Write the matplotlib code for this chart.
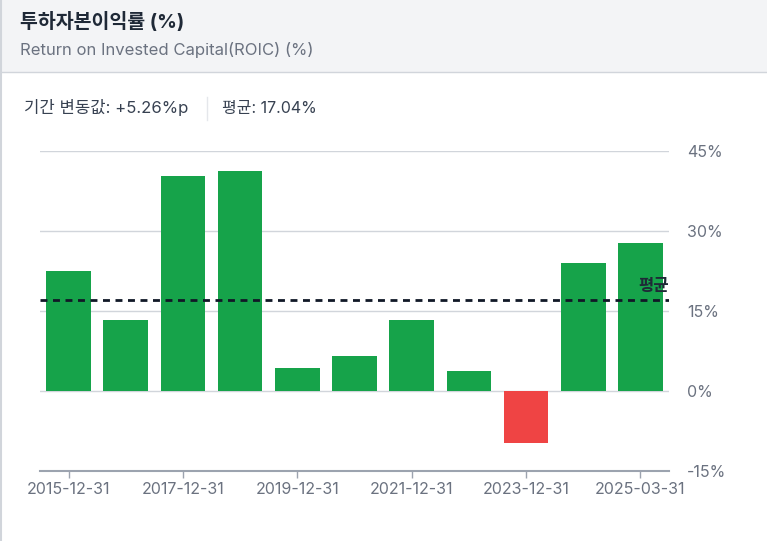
import matplotlib
matplotlib.use('Agg')
import matplotlib.pyplot as plt
import matplotlib.patches as patches
from matplotlib.lines import Line2D

plt.rcParams['font.family'] = ['Inter', 'Noto Sans CJK KR', 'DejaVu Sans']

# 데이터
dates = ['2015-12-31', '2016-12-31', '2017-12-31', '2018-12-31', '2019-12-31',
         '2020-12-31', '2021-12-31', '2022-12-31', '2023-12-31', '2024-12-31',
         '2025-03-31']
roic = [22.5, 13.3, 40.3, 41.25, 4.3, 6.6, 13.3, 3.75, -9.75, 24.0, 27.75]
avg_value = 17.04
change_value = 5.26
y_ticks = [-15, 0, 15, 30, 45]

fig = plt.figure(figsize=(7.67, 5.41), dpi=100)
fig.set_facecolor('white')
W, H = 767, 541

# 헤더 영역
header = patches.Rectangle((0, 1 - 72 / H), 1, 72 / H, transform=fig.transFigure,
                           facecolor='#f3f4f6', edgecolor='none', zorder=0)
fig.patches.append(header)
fig.lines.append(Line2D([0, 1], [1 - 72 / H, 1 - 72 / H], transform=fig.transFigure,
                        color='#d1d5db', lw=1))
fig.lines.append(Line2D([1 / W, 1 / W], [0, 1], transform=fig.transFigure,
                        color='#d1d5db', lw=1.5))

fig.text(20 / W, 1 - 22 / H, '투하자본이익률 (%)', fontsize=14, fontweight='bold',
         color='#1f2937', va='center', ha='left')
fig.text(20 / W, 1 - 50 / H, 'Return on Invested Capital(ROIC) (%)', fontsize=12,
         color='#6b7280', va='center', ha='left')
fig.text(24 / W, 1 - 108 / H, f'기간 변동값: +{change_value:.2f}%p', fontsize=12,
         color='#374151', va='center', ha='left')
fig.lines.append(Line2D([207 / W, 207 / W], [1 - 97 / H, 1 - 120 / H],
                        transform=fig.transFigure, color='#e5e7eb', lw=1))
fig.text(222 / W, 1 - 108 / H, f'평균: {avg_value:.2f}%', fontsize=11.5,
         color='#374151', va='center', ha='left')

# 차트
ax = fig.add_axes([40 / W, 1 - 471 / H, 629 / W, 320 / H])
x = list(range(len(dates)))
colors = ['#16a34a' if v >= 0 else '#ef4444' for v in roic]
ax.bar(x, roic, width=0.78, color=colors, zorder=2)

ax.axhline(avg_value, color='#111827', lw=2, ls=(0, (2.5, 2)), zorder=3)
ax.text(len(dates) - 0.5, avg_value + 1.2, '평균', ha='right', va='bottom',
        fontsize=12, fontweight='bold', color='#1f2937', zorder=4)

ax.set_xlim(-0.5, len(dates) - 0.5)
ax.set_ylim(-15, 45)
ax.set_yticks(y_ticks)
ax.set_yticklabels([f'{t}%' for t in y_ticks])
ax.yaxis.tick_right()
ax.tick_params(axis='y', length=0, pad=13, labelsize=11.5, labelcolor='#6b7280')
ax.set_xticks(x[::2])
ax.set_xticklabels(dates[::2])
ax.tick_params(axis='x', length=5, width=1, color='#9ca3af', labelsize=11.5,
               labelcolor='#6b7280', pad=3)
ax.grid(axis='y', color='#d1d5db', lw=1, zorder=0)
for s in ['top', 'right', 'left']:
    ax.spines[s].set_visible(False)
ax.spines['bottom'].set_color('#9ca3af')
ax.spines['bottom'].set_linewidth(1.5)

fig.savefig('out.png', dpi=100)
